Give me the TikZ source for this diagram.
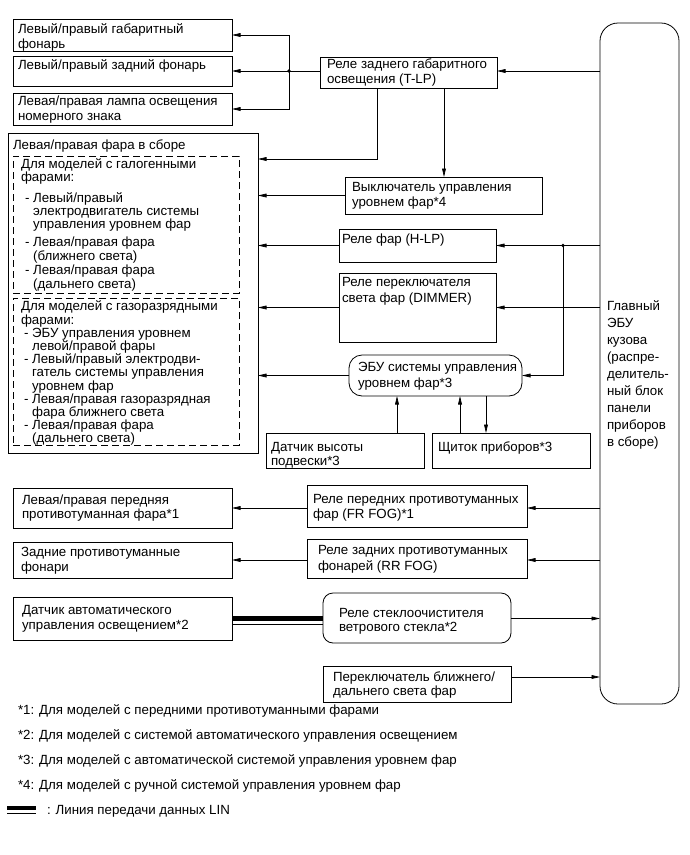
\documentclass[tikz,border=0pt]{standalone}
\usepackage{fontspec}
\setmainfont{Liberation Sans}
\usetikzlibrary{arrows.meta}
\newcommand\myst{\rule{0pt}{12pt}}
\newcommand\ind{\hphantom{- }}
\newcommand\mkbox[6][bx]{\node[#1, minimum width={#5-#3}, minimum height={#6-#4}] (#2) at (#3,#4) {};}
\newcommand\mktxt[5][15]{\node[tx=#1] (#2) at (#3,{#4-7.2}) {\myst #5};}
\begin{document}
\begin{tikzpicture}[x=1pt,y=-1pt,
  every node/.style={inner sep=0pt, outer sep=0pt},
  bx/.style={draw, line width=0.8pt, anchor=north west},
  rbx/.style={bx, rounded corners=10pt},
  pill/.style={bx, rounded corners=13pt},
  ecubx/.style={bx, rounded corners=18pt},
  dbx/.style={bx, dash pattern=on 7pt off 4pt},
  tx/.style={anchor=north west, align=left, font=\fontsize{13.3}{#1}\selectfont},
  tx/.default=15,
  ln/.style={line width=0.7pt},
  ar/.style={ln, -{Triangle[length=8.5pt,width=3.8pt]}},
  jdot/.style={circle, fill, minimum size=3.6pt},
  linbus/.style={line width=4.5pt},
]
\useasboundingbox (0,0) rectangle (690,855);

% ---------- boxes ----------
\mkbox{b1}{13}{19}{232}{51}
\mkbox{b2}{13}{56}{232}{86}
\mkbox{b3}{13}{93}{232}{125}
\mkbox{tlp}{320}{57}{497}{88}
\mkbox[ecubx]{ecu}{600}{23}{679}{704}
\mkbox{hl}{8}{133}{258}{453}
\mkbox[dbx]{d1}{13}{156}{239}{293}
\mkbox[dbx]{d2}{13}{298}{239}{445}
\mkbox{sw}{345}{177}{542}{214}
\mkbox{hlp}{339}{229}{496}{262}
\mkbox{dim}{339}{273}{496}{342}
\mkbox[pill]{ecul}{349}{355}{522}{396}
\mkbox{sens}{266}{433}{424}{468}
\mkbox{shch}{432}{433}{590}{468}
\mkbox{ffl}{13}{488}{232}{528}
\mkbox{rfl}{13}{542}{232}{578}
\mkbox{ffr}{307}{485}{527}{527}
\mkbox{rfr}{307}{539}{527}{578}
\mkbox{als}{13}{597}{232}{640}
\mkbox[rbx]{wip}{323}{593}{511}{643}
\mkbox{hbs}{323}{666}{511}{702}

% ---------- texts ----------
\mktxt{t1}{18}{29}{Левый/правый габаритный\\фонарь}
\mktxt{t2}{18}{65}{Левый/правый задний фонарь}
\mktxt{t3}{18}{101}{Левая/правая лампа освещения\\номерного знака}
\mktxt{ttlp}{327}{64}{Реле заднего габаритного\\освещения (T-LP)}
\mktxt{thl}{13}{145}{Левая/правая фара в сборе}
\mktxt[13]{td1a}{21}{164}{Для моделей с галогенными\\фарами:}
\mktxt[12.3]{td1b}{25}{198}{- Левый/правый\\\ind электродвигатель системы\\\ind управления уровнем фар}
\mktxt[12.3]{td1c}{25}{242}{- Левая/правая фара\\\ind (ближнего света)\\[1pt]- Левая/правая фара\\\ind (дальнего света)}
\mktxt[13.2]{td2}{21}{306}{Для моделей с газоразрядными\\фарами:\\\hspace*{3pt}- ЭБУ управления уровнем\\\hspace*{3pt}\ind левой/правой фары\\\hspace*{3pt}- Левый/правый электродви-\\\hspace*{3pt}\ind гатель системы управления\\\hspace*{3pt}\ind уровнем фар\\\hspace*{3pt}- Левая/правая газоразрядная\\\hspace*{3pt}\ind фара ближнего света\\\hspace*{3pt}- Левая/правая фара\\\hspace*{3pt}\ind (дальнего света)}
\mktxt{tsw}{352}{187}{Выключатель управления\\уровнем фар*4}
\mktxt{thlp}{342}{239}{Реле фар (H-LP)}
\mktxt[16]{tdim}{342}{282}{Реле переключателя\\света фар (DIMMER)}
\mktxt[16]{tecul}{358}{367}{ЭБУ системы управления\\уровнем фар*3}
\mktxt[14]{tsens}{271}{447}{Датчик высоты\\подвески*3}
\mktxt{tshch}{438}{447}{Щиток приборов*3}
\mktxt[14]{tffl}{22}{500}{Левая/правая передняя\\противотуманная фара*1}
\mktxt{trfl}{21}{552}{Задние противотуманные\\фонари}
\mktxt{tffr}{313}{499}{Реле передних противотуманных\\фар (FR FOG)*1}
\mktxt[16]{trfr}{318}{550}{Реле задних противотуманных\\фонарей (RR FOG)}
\mktxt{tals}{22}{610}{Датчик автоматического\\управления освещением*2}
\mktxt[14]{twip}{339}{613}{Реле стеклоочистителя\\ветрового стекла*2}
\mktxt[14]{thbs}{333}{677}{Переключатель ближнего/\\дальнего света фар}
\mktxt[17]{tecu}{607}{306}{Главный\\ЭБУ\\кузова\\(распре-\\делитель-\\ный блок\\панели\\приборов\\в сборе)}
\mktxt{fn1}{18}{710}{*1: Для моделей с передними противотуманными фарами}
\mktxt{fn2}{18}{735}{*2: Для моделей с системой автоматического управления освещением}
\mktxt{fn3}{18}{760}{*3: Для моделей с автоматической системой управления уровнем фар}
\mktxt{fn4}{18}{785}{*4: Для моделей с ручной системой управления уровнем фар}
\mktxt{fn5}{47}{810}{: Линия передачи данных LIN}

% ---------- connectors ----------
% T-LP group
\coordinate (j1) at (289,71);
\node[jdot] (j1d) at (j1) {};
\draw[ar] (j1) |- (b1.east);
\draw[ar] (j1) -- (b2.east |- j1);
\draw[ar] (j1) |- (b3.east);
\draw[ln] (tlp.west |- j1) -- (j1);
\draw[ar] (ecu.west |- j1) -- (tlp.east |- j1);
\coordinate (k1) at (377,159);
\coordinate (k2) at (444,177);
\draw[ar] (tlp.south -| k1) -- (k1) -- (hl.east |- k1);
\draw[ar] (tlp.south -| k2) -- (sw.north -| k2);
\draw[ar] (sw.west) -- (hl.east |- sw.west);
% H-LP, DIMMER, level ECU
\draw[ar] (hlp.west) -- (hl.east |- hlp.west);
\draw[ar] (ecu.west |- hlp.east) -- (hlp.east);
\path (hlp.east) ++(67,0) coordinate (j2);
\node[jdot] (j2d) at (j2) {};
\draw[ar] (dim.west) -- (hl.east |- dim.west);
\draw[ar] (ecu.west |- dim.east) -- (dim.east);
\draw[ar] (ecul.west) -- (hl.east |- ecul.west);
\draw[ar] (j2) |- (ecul.east);
\coordinate (s1) at (397,0);
\coordinate (s2) at (460,0);
\coordinate (s3) at (486,0);
\draw[ar] (sens.north -| s1) -- (ecul.south -| s1);
\draw[ar] (shch.north -| s2) -- (ecul.south -| s2);
\draw[ar] (ecul.south -| s3) -- (shch.north -| s3);
% fog
\draw[ar] (ffr.west |- ffl.east) -- (ffl.east);
\draw[ar] (ecu.west |- ffl.east) -- (ffr.east |- ffl.east);
\draw[ar] (rfr.west |- rfl.east) -- (rfl.east);
\draw[ar] (ecu.west |- rfl.east) -- (rfr.east |- rfl.east);
% LIN
\draw[linbus] (als.east) -- (wip.west |- als.east);
\draw[ln] ([yshift=-5.5pt]als.east) -- ([yshift=-5.5pt]wip.west |- als.east);
\draw[ar] (wip.east |- als.east) -- (ecu.west |- als.east);
\path ([yshift=7pt]hbs.east) coordinate (q);
\draw[ar] (q) -- (ecu.west |- q);
% legend
\coordinate (lg1) at (7,808);
\coordinate (lg2) at (36,808);
\draw[linbus] (lg1) -- (lg2);
\draw[ln] ([yshift=-5.5pt]lg1) -- ([yshift=-5.5pt]lg2);
\end{tikzpicture}
\end{document}
